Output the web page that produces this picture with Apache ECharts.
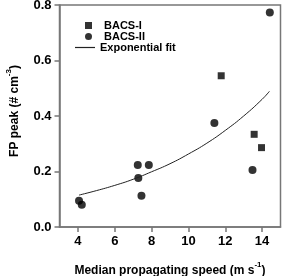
<!DOCTYPE html>
<html><head><meta charset="utf-8">
<script src="https://cdn.jsdelivr.net/npm/echarts@6/dist/echarts.min.js"></script>
<style>html,body{margin:0;padding:0;background:#fff}#c{width:283px;height:276px}</style>
</head><body><div id="c"></div>
<script>
var bacs1 = [[11.78, 0.545], [13.57, 0.334], [13.97, 0.286]];
var bacs2 = [[14.42, 0.773], [11.41, 0.375], [13.48, 0.205], [7.25, 0.223], [7.85, 0.223], [7.28, 0.177], [7.45, 0.113], [4.06, 0.095], [4.21, 0.080]];
var fitX = [4.06, 5, 6, 7, 8, 9, 10, 11, 12, 13, 14, 14.4];
var fitY = [0.115, 0.131, 0.150, 0.172, 0.199, 0.228, 0.263, 0.302, 0.348, 0.400, 0.460, 0.489];
var xTicks = [4, 6, 8, 10, 12, 14];
var fitData = fitX.map(function (x, i) { return [x, fitY[i]]; });

var FONT = 'Liberation Sans';
var axisColor = '#777';
var legText = {fontFamily: FONT, fontWeight: 'bold', fontSize: 11, color: '#000'};
var chart = echarts.init(document.getElementById('c'), null, {renderer: 'canvas'});
chart.setOption({
  animation: false,
  grid: {left: 59.5, right: 2.5, top: 5, bottom: 49, show: true, borderColor: axisColor, borderWidth: 1.5,
         containLabel: false, outerBoundsMode: 'none'},
  legend: [
    {data: ['BACS-I'], left: 80, top: 15, itemWidth: 7, itemHeight: 7, itemGap: 0, orient: 'vertical',
     textStyle: Object.assign({padding: [0, 0, 0, 7]}, legText)},
    {data: ['BACS-II'], left: 80, top: 26, itemWidth: 7, itemHeight: 7, itemGap: 0, orient: 'vertical',
     textStyle: Object.assign({padding: [0, 0, 0, 7]}, legText)},
    {data: [{name: 'Exponential fit', icon: 'rect'}], left: 70, top: 37, itemWidth: 20, itemHeight: 1.2, itemGap: 0, orient: 'vertical',
     textStyle: Object.assign({padding: [0, 0, 0, 0]}, legText)}
  ],
  xAxis: {
    type: 'value', min: 3, max: 15,
    name: '{a|Median propagating speed (m s}{s|-1}{a|)}',
    nameLocation: 'middle', nameGap: 34,
    nameTextStyle: {rich: {
      a: {fontFamily: FONT, fontWeight: 'bold', fontSize: 12, color: '#000', lineHeight: 16, verticalAlign: 'bottom'},
      s: {fontFamily: FONT, fontWeight: 'bold', fontSize: 8, color: '#000', lineHeight: 16, verticalAlign: 'top', padding: [0, 0, 6, 0]}
    }},
    axisLine: {show: true, lineStyle: {color: axisColor, width: 1.5}},
    axisTick: {show: true, length: 5, lineStyle: {color: axisColor, width: 1.5}, customValues: xTicks},
    axisLabel: {fontFamily: FONT, fontWeight: 'bold', fontSize: 13, color: '#000', margin: 8, customValues: xTicks},
    splitLine: {show: false}
  },
  yAxis: {
    type: 'value', min: 0, max: 0.8, interval: 0.2,
    name: '{a|FP peak (# cm}{s|-3}{a|)}',
    nameLocation: 'middle', nameGap: 39,
    nameTextStyle: {padding: [0, 0, 0, 10], rich: {
      a: {fontFamily: FONT, fontWeight: 'bold', fontSize: 12, color: '#000', lineHeight: 16, verticalAlign: 'bottom'},
      s: {fontFamily: FONT, fontWeight: 'bold', fontSize: 8, color: '#000', lineHeight: 16, verticalAlign: 'top', padding: [0, 0, 6, 0]}
    }},
    axisLine: {show: true, lineStyle: {color: axisColor, width: 1.5}},
    axisTick: {show: true, length: 5, lineStyle: {color: axisColor, width: 1.5}},
    axisLabel: {fontFamily: FONT, fontWeight: 'bold', fontSize: 13, color: '#000', margin: 8,
      formatter: function (v) { return v.toFixed(1); }},
    splitLine: {show: false}
  },
  series: [
    {name: 'BACS-I', type: 'scatter', symbol: 'rect', symbolSize: 7, data: bacs1, itemStyle: {color: '#000'}},
    {name: 'BACS-II', type: 'scatter', symbol: 'circle', symbolSize: 8, data: bacs2, itemStyle: {color: '#000'}},
    {name: 'Exponential fit', type: 'line', smooth: true, showSymbol: false, symbol: 'none', data: fitData,
     lineStyle: {color: '#222', width: 1}, itemStyle: {color: '#222'}}
  ]
});
</script></body></html>
